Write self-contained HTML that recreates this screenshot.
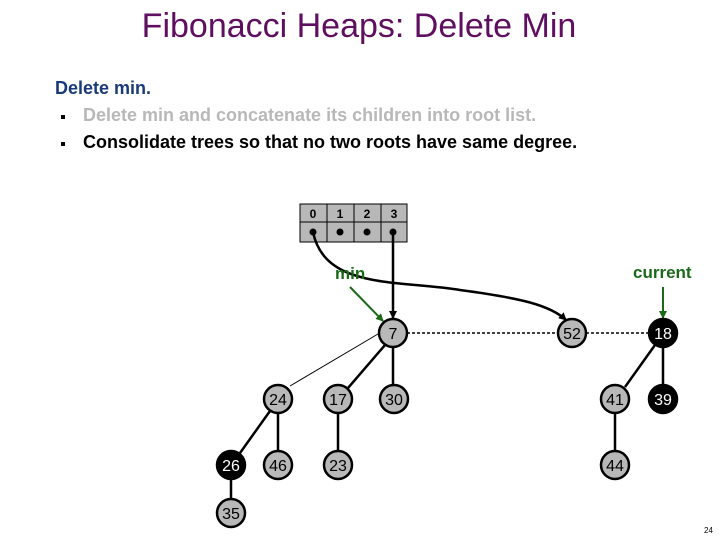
<!DOCTYPE html>
<html><head><meta charset="utf-8"><style>
html,body{margin:0;padding:0;background:#fff;}
svg{display:block;font-family:"Liberation Sans",Arial,sans-serif;}
</style></head><body>
<svg width="720" height="540" viewBox="0 0 720 540" xmlns="http://www.w3.org/2000/svg">
<defs>
<marker id="ab" markerWidth="8" markerHeight="8" refX="7" refY="4" orient="auto" markerUnits="userSpaceOnUse"><path d="M0,0 L8,4 L0,8 z" fill="#000"/></marker>
<marker id="ag" markerWidth="8" markerHeight="8" refX="7" refY="4" orient="auto" markerUnits="userSpaceOnUse"><path d="M0,0 L8,4 L0,8 z" fill="#1a6a1a"/></marker>
</defs>
<text x="359" y="37" font-size="34" fill="#5f0f5f" text-anchor="middle">Fibonacci Heaps:  Delete Min</text>
<text x="55" y="94" font-size="18" font-weight="bold" fill="#1a3a7a">Delete min.</text>
<rect x="61" y="115" width="4" height="4" fill="#000"/>
<text x="83" y="121" font-size="18" font-weight="bold" fill="#b8b8b8">Delete min and concatenate its children into root list.</text>
<rect x="61" y="142" width="4" height="4" fill="#000"/>
<text x="83" y="148" font-size="18" font-weight="bold" fill="#000">Consolidate trees so that no two roots have same degree.</text>

<g stroke="#000" stroke-width="1" fill="#b8b8b8">
<rect x="300" y="204" width="27" height="18"/><rect x="327" y="204" width="27" height="18"/><rect x="354" y="204" width="27" height="18"/><rect x="381" y="204" width="26" height="18"/>
<rect x="300" y="222" width="27" height="20"/><rect x="327" y="222" width="27" height="20"/><rect x="354" y="222" width="27" height="20"/><rect x="381" y="222" width="26" height="20"/>
</g>
<g font-size="12" font-weight="bold" text-anchor="middle" fill="#000">
<text x="313" y="218">0</text><text x="340" y="218">1</text><text x="367" y="218">2</text><text x="394" y="218">3</text>
</g>
<g fill="#000"><circle cx="313" cy="232" r="3.5"/><circle cx="340" cy="232" r="3.5"/><circle cx="367" cy="232" r="3.5"/><circle cx="393" cy="232" r="3.5"/></g>

<path d="M313,232 C325,290 400,280 460,290 C520,298 550,305 566,320" fill="none" stroke="#000" stroke-width="2.5" marker-end="url(#ab)"/>
<line x1="393" y1="232" x2="393" y2="318" stroke="#000" stroke-width="2.5" marker-end="url(#ab)"/>
<text x="335" y="279" font-size="17" font-weight="bold" fill="#1a6a1a">min</text>
<line x1="350" y1="287" x2="383" y2="321" stroke="#1a6a1a" stroke-width="2" marker-end="url(#ag)"/>
<text x="633" y="278" font-size="17" font-weight="bold" fill="#1a6a1a">current</text>
<line x1="663" y1="287" x2="663" y2="318" stroke="#1a6a1a" stroke-width="2" marker-end="url(#ag)"/>

<line x1="407" y1="333" x2="558" y2="333" stroke="#000" stroke-width="1.5" stroke-dasharray="3,2"/>
<line x1="586" y1="333" x2="649" y2="333" stroke="#000" stroke-width="1.5" stroke-dasharray="3,2"/>

<g stroke="#000" stroke-width="2.5">
<line x1="378" y1="334" x2="290" y2="386" stroke-width="1"/>
<line x1="385" y1="345" x2="348" y2="388"/>
<line x1="393" y1="347" x2="393" y2="385"/>
<line x1="278" y1="413" x2="278" y2="451"/>
<line x1="270" y1="411" x2="240" y2="453"/>
<line x1="338" y1="413" x2="338" y2="451"/>
<line x1="231" y1="479" x2="231" y2="499"/>
<line x1="655" y1="345" x2="625" y2="387"/>
<line x1="663" y1="347" x2="663" y2="385"/>
<line x1="615" y1="413" x2="615" y2="451"/>
</g>

<g stroke="#000" stroke-width="2.5">
<circle cx="393" cy="333" r="14" fill="#b8b8b8"/>
<circle cx="572" cy="333" r="14" fill="#b8b8b8"/>
<circle cx="663" cy="333" r="14" fill="#000"/>
<circle cx="278" cy="399" r="14" fill="#b8b8b8"/>
<circle cx="338" cy="399" r="14" fill="#b8b8b8"/>
<circle cx="394" cy="399" r="14" fill="#b8b8b8"/>
<circle cx="615" cy="399" r="14" fill="#b8b8b8"/>
<circle cx="663" cy="399" r="14" fill="#000"/>
<circle cx="231" cy="465" r="14" fill="#000"/>
<circle cx="278" cy="465" r="14" fill="#b8b8b8"/>
<circle cx="338" cy="465" r="14" fill="#b8b8b8"/>
<circle cx="615" cy="465" r="14" fill="#b8b8b8"/>
<circle cx="231" cy="513" r="14" fill="#b8b8b8"/>
</g>
<g font-size="16" text-anchor="middle">
<text x="393" y="339" fill="#000">7</text>
<text x="572" y="339" fill="#000">52</text>
<text x="663" y="339" fill="#fff">18</text>
<text x="278" y="405" fill="#000">24</text>
<text x="338" y="405" fill="#000">17</text>
<text x="394" y="405" fill="#000">30</text>
<text x="615" y="405" fill="#000">41</text>
<text x="663" y="405" fill="#fff">39</text>
<text x="231" y="471" fill="#fff">26</text>
<text x="278" y="471" fill="#000">46</text>
<text x="338" y="471" fill="#000">23</text>
<text x="615" y="471" fill="#000">44</text>
<text x="231" y="519" fill="#000">35</text>
</g>
<text x="704" y="533" font-size="8" fill="#000">24</text>
</svg>
</body></html>
